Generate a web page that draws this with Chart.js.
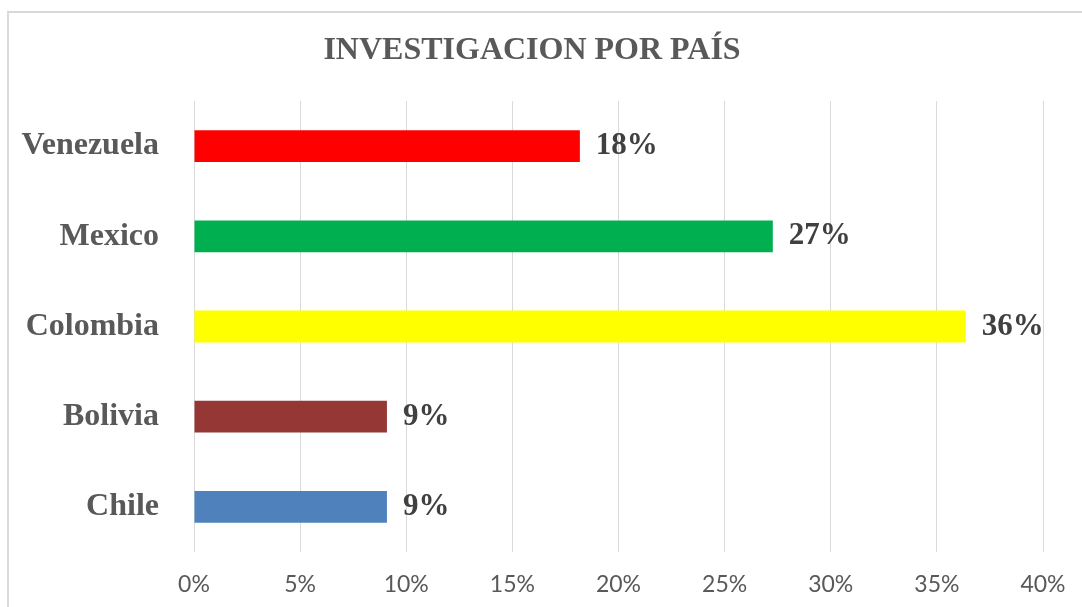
<!DOCTYPE html>
<html>
<head>
<meta charset="utf-8">
<script src="https://cdn.jsdelivr.net/npm/chart.js@4/dist/chart.umd.min.js"></script>
<style>
  html, body { margin: 0; padding: 0; background: #ffffff; }
  #wrap { position: relative; width: 1082px; height: 607px; overflow: hidden; }
  #frame { position: absolute; left: 7px; top: 11px; width: 1200px; height: 700px; border: 2px solid #d9d9d9; box-sizing: border-box; }
  canvas { position: absolute; left: 0; top: 0; }
</style>
</head>
<body>
<div id="wrap">
  <div id="frame"></div>
  <canvas id="c" width="1082" height="607"></canvas>
</div>
<script>
const chartTitle = 'INVESTIGACION POR PAÍS';
const categories = ['Venezuela', 'Mexico', 'Colombia', 'Bolivia', 'Chile'];
const values = [18.18, 27.27, 36.36, 9.09, 9.09];
const barColors = ['#FF0000', '#00B050', '#FFFF00', '#953735', '#4F81BD'];
const xTicks = [0, 5, 10, 15, 20, 25, 30, 35, 40];

const titlePlugin = {
  id: 'titleText',
  afterDraw(chart) {
    const ctx = chart.ctx;
    ctx.save();
    ctx.font = 'bold 32px "Liberation Serif", "Times New Roman", serif';
    ctx.fillStyle = '#595959';
    ctx.textAlign = 'center';
    ctx.textBaseline = 'middle';
    ctx.fillText(chartTitle, 532, 51);
    ctx.restore();
  }
};

const labelPlugin = {
  id: 'valueLabels',
  afterDatasetsDraw(chart) {
    const ctx = chart.ctx;
    const meta = chart.getDatasetMeta(0);
    ctx.save();
    ctx.font = 'bold 31px "Liberation Serif", "Times New Roman", serif';
    ctx.fillStyle = '#404040';
    ctx.textAlign = 'left';
    ctx.textBaseline = 'middle';
    meta.data.forEach((bar, i) => {
      ctx.fillText(Math.round(values[i]) + '%', bar.x + 16, bar.y);
    });
    ctx.restore();
  }
};

new Chart(document.getElementById('c'), {
  type: 'bar',
  data: {
    labels: categories,
    datasets: [{
      data: values,
      backgroundColor: barColors,
      borderWidth: 0,
      barPercentage: 0.352,
      categoryPercentage: 1.0
    }]
  },
  options: {
    indexAxis: 'y',
    responsive: false,
    animation: false,
    layout: { padding: { left: 0, right: 39, top: 101, bottom: 0 } },
    plugins: {
      legend: { display: false },
      title: { display: false },
      tooltip: { enabled: false }
    },
    scales: {
      x: {
        min: 0,
        max: 40,
        afterBuildTicks(axis) { axis.ticks = xTicks.map(v => ({ value: v })); },
        afterFit(axis) { axis.height = 55; axis.paddingLeft = 0; axis.paddingRight = 0; },
        grid: { color: '#d9d9d9', lineWidth: 1, drawTicks: false },
        border: { display: false },
        ticks: {
          padding: 19,
          color: '#595959',
          font: { family: 'Lato, "Liberation Sans", sans-serif', size: 23 },
          callback: v => v + '%'
        }
      },
      y: {
        afterFit(axis) { axis.width = 194; axis.paddingTop = 0; axis.paddingBottom = 0; },
        grid: { display: false, drawTicks: false },
        border: { display: false },
        ticks: {
          padding: 35,
          color: '#595959',
          font: { family: '"Liberation Serif", "Times New Roman", serif', size: 32, weight: 'bold' }
        }
      }
    }
  },
  plugins: [titlePlugin, labelPlugin]
});
</script>
</body>
</html>
